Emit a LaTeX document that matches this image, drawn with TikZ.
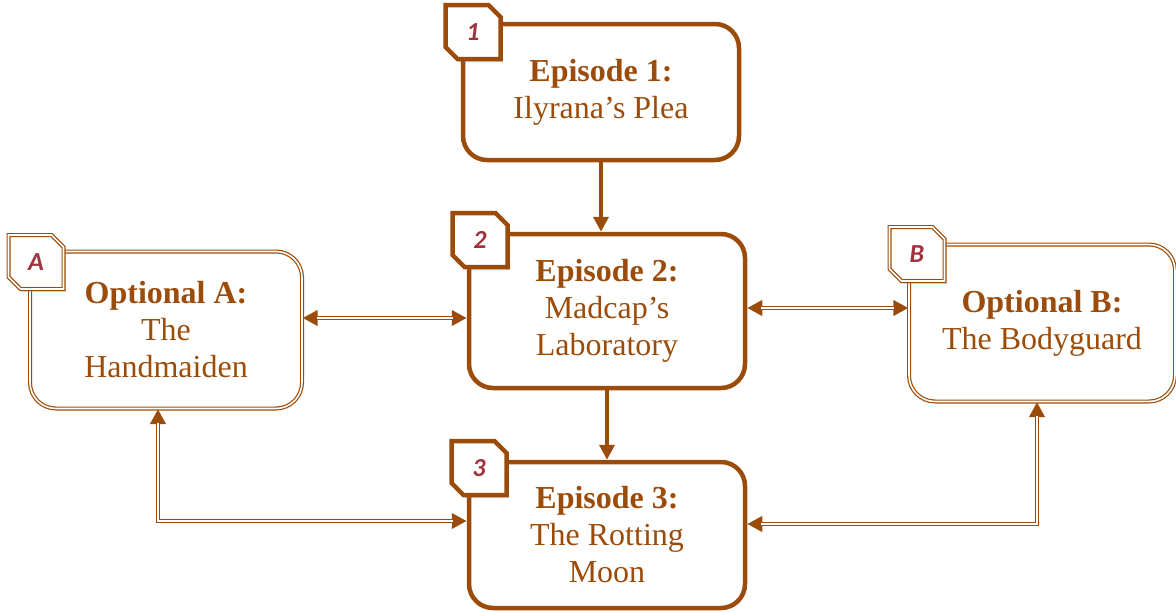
\documentclass[tikz,border=0pt]{standalone}
\usepackage{fontspec}
\setmainfont{Liberation Serif}
\newfontfamily\tagfont{Carlito}
\usetikzlibrary{arrows.meta, shapes.misc, shadows}
\definecolor{rust}{RGB}{156,76,10}
\definecolor{tagred}{RGB}{160,52,62}
\tikzstyle{episode}=[draw=rust, line width=4.5pt, rounded corners=24pt, fill=white, text=rust, align=center, font=\fontsize{32}{37}\selectfont, minimum width=276pt]
\tikzstyle{optional}=[draw=rust, line width=1.2pt, double=white, double distance=1.6pt, rounded corners=26pt, text=rust, align=center, font=\fontsize{32}{37}\selectfont, minimum width=272pt, minimum height=157pt]
\tikzstyle{tagbox}=[chamfered rectangle, chamfered rectangle corners={north east, south west}, chamfered rectangle sep=6pt, fill=white, inner sep=0pt, minimum width=55pt, minimum height=54pt, text=tagred, font=\tagfont\fontsize{26}{26}\selectfont\bfseries\itshape, drop shadow={shadow xshift=2pt, shadow yshift=-3pt, opacity=0.25}]
\tikzstyle{tagthick}=[tagbox, draw=rust, line width=4.5pt]
\tikzstyle{tagdouble}=[tagbox, draw=rust, line width=1.2pt, double=white, double distance=1.6pt]
\tikzstyle{flow}=[draw=rust, line width=4pt, -{Triangle[length=15pt, width=15pt]}]
\tikzstyle{linkout}=[draw=rust, line width=4.8pt, {Triangle[length=15pt, width=15pt]}-{Triangle[length=15pt, width=15pt]}]
\tikzstyle{linkin}=[draw=white, line width=2pt, shorten <=14pt, shorten >=14pt]

\begin{document}
\begin{tikzpicture}[x=1pt, y=-1pt]
\useasboundingbox (0,0) rectangle (1176,613);
% Episodes
    \node[episode, minimum height=136pt] (ep1) at (601,92) {\textbf{Episode 1:}\\Ilyrana's Plea};
    \node[episode, minimum height=154pt] (ep2) at (607,311) {\textbf{Episode 2:}\\Madcap's\\Laboratory};
    \node[episode, minimum height=146pt] (ep3) at (607,535) {\textbf{Episode 3:}\\The Rotting\\Moon};
% Optional side quests
    \node[optional] (optA) at (166,330) {\textbf{Optional A:}\\The\\Handmaiden};
    \node[optional, minimum width=266pt] (optB) at (1042,323) {\textbf{Optional B:}\\The Bodyguard};
% Tags
    \node[tagthick] (t1) at (473,32) {1};
    \node[tagthick] (t2) at (480,240) {2};
    \node[tagthick] (t3) at (479,468) {3};
    \node[tagdouble] (tA) at (36,262) {A};
    \node[tagdouble] (tB) at (917,254) {B};
% Main line
    \draw[flow] (ep1.south) -- (ep1.south |- ep2.north);
    \draw[flow] (ep2.south) -- (ep3.north);
% Side links
    \draw[linkout] (optA.east |- 0,318) -- (ep2.west |- 0,318);
    \draw[linkin] (optA.east |- 0,318) -- (ep2.west |- 0,318);
    \draw[linkout] (ep2.east |- 0,308) -- (optB.west |- 0,308);
    \draw[linkin] (ep2.east |- 0,308) -- (optB.west |- 0,308);
    \draw[linkout] (ep3.west |- 0,521) -| ([xshift=-8pt]optA.south);
    \draw[linkin] (ep3.west |- 0,521) -| ([xshift=-8pt]optA.south);
    \draw[linkout] (ep3.east |- 0,524) -| ([xshift=-5pt]optB.south);
    \draw[linkin] (ep3.east |- 0,524) -| ([xshift=-5pt]optB.south);
\end{tikzpicture}
\end{document}
